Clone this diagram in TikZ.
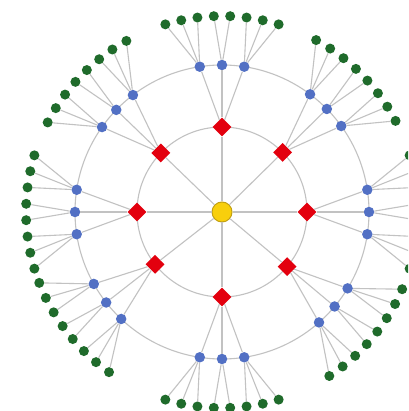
\documentclass[tikz,border=0pt]{standalone}
\usetikzlibrary{shapes.geometric}
\definecolor{edgegray}{HTML}{C2C2C2}
\definecolor{hubfill}{HTML}{F8CF0C}
\definecolor{hubline}{HTML}{C2A012}
\definecolor{redfill}{HTML}{E3000E}
\definecolor{bluefill}{HTML}{5270C4}
\definecolor{greenfill}{HTML}{1F6B2B}
\tikzset{
  edge/.style={draw=edgegray, line width=1.1pt},
  ring/.style={draw=edgegray, line width=1.1pt},
  hub/.style={circle, fill=hubfill, draw=hubline, line width=1pt, minimum size=20pt, inner sep=0pt},
  rednode/.style={diamond, fill=redfill, minimum size=19pt, inner sep=0pt},
  bluenode/.style={circle, fill=bluefill, minimum size=10.5pt, inner sep=0pt},
  leaf/.style={circle, fill=greenfill, minimum size=10pt, inner sep=0pt},
}
\begin{document}
\begin{tikzpicture}[x=1pt,y=1pt]
\useasboundingbox (0,0) rectangle (408,411);
\clip (0,0) rectangle (408,411);
\fill[white] (0,0) rectangle (408,411);
\begin{scope}[shift={(222,199)}]
  \coordinate (o) at (0,0);
  \draw[ring] (o) circle (85pt);
  \draw[ring] (o) circle (147pt);
  \node[hub] (c) at (o) {};
  \foreach \i/\a in {1/90,2/44.5,3/0,4/-40,5/-90,6/-142,7/180,8/136}{
    \node[rednode] (r\i) at (\a:85pt) {};
    \draw[edge] (c) -- (r\i);
    \foreach \j/\d in {1/8.7,2/0,3/-8.7}{
      \node[bluenode] (b\i\j) at ({\a+\d}:147pt) {};
      \draw[edge] (r\i) -- (b\i\j);
    }
    \foreach \k/\e/\p in {1/16.8/1,2/12/1,3/7.2/1,4/2.4/2,5/-2.4/2,6/-7.2/3,7/-12/3,8/-16.8/3}{
      \node[leaf] (g\i\k) at ({\a+\e}:196pt) {};
      \draw[edge] (b\i\p) -- (g\i\k);
    }
  }
\end{scope}
\end{tikzpicture}
\end{document}
